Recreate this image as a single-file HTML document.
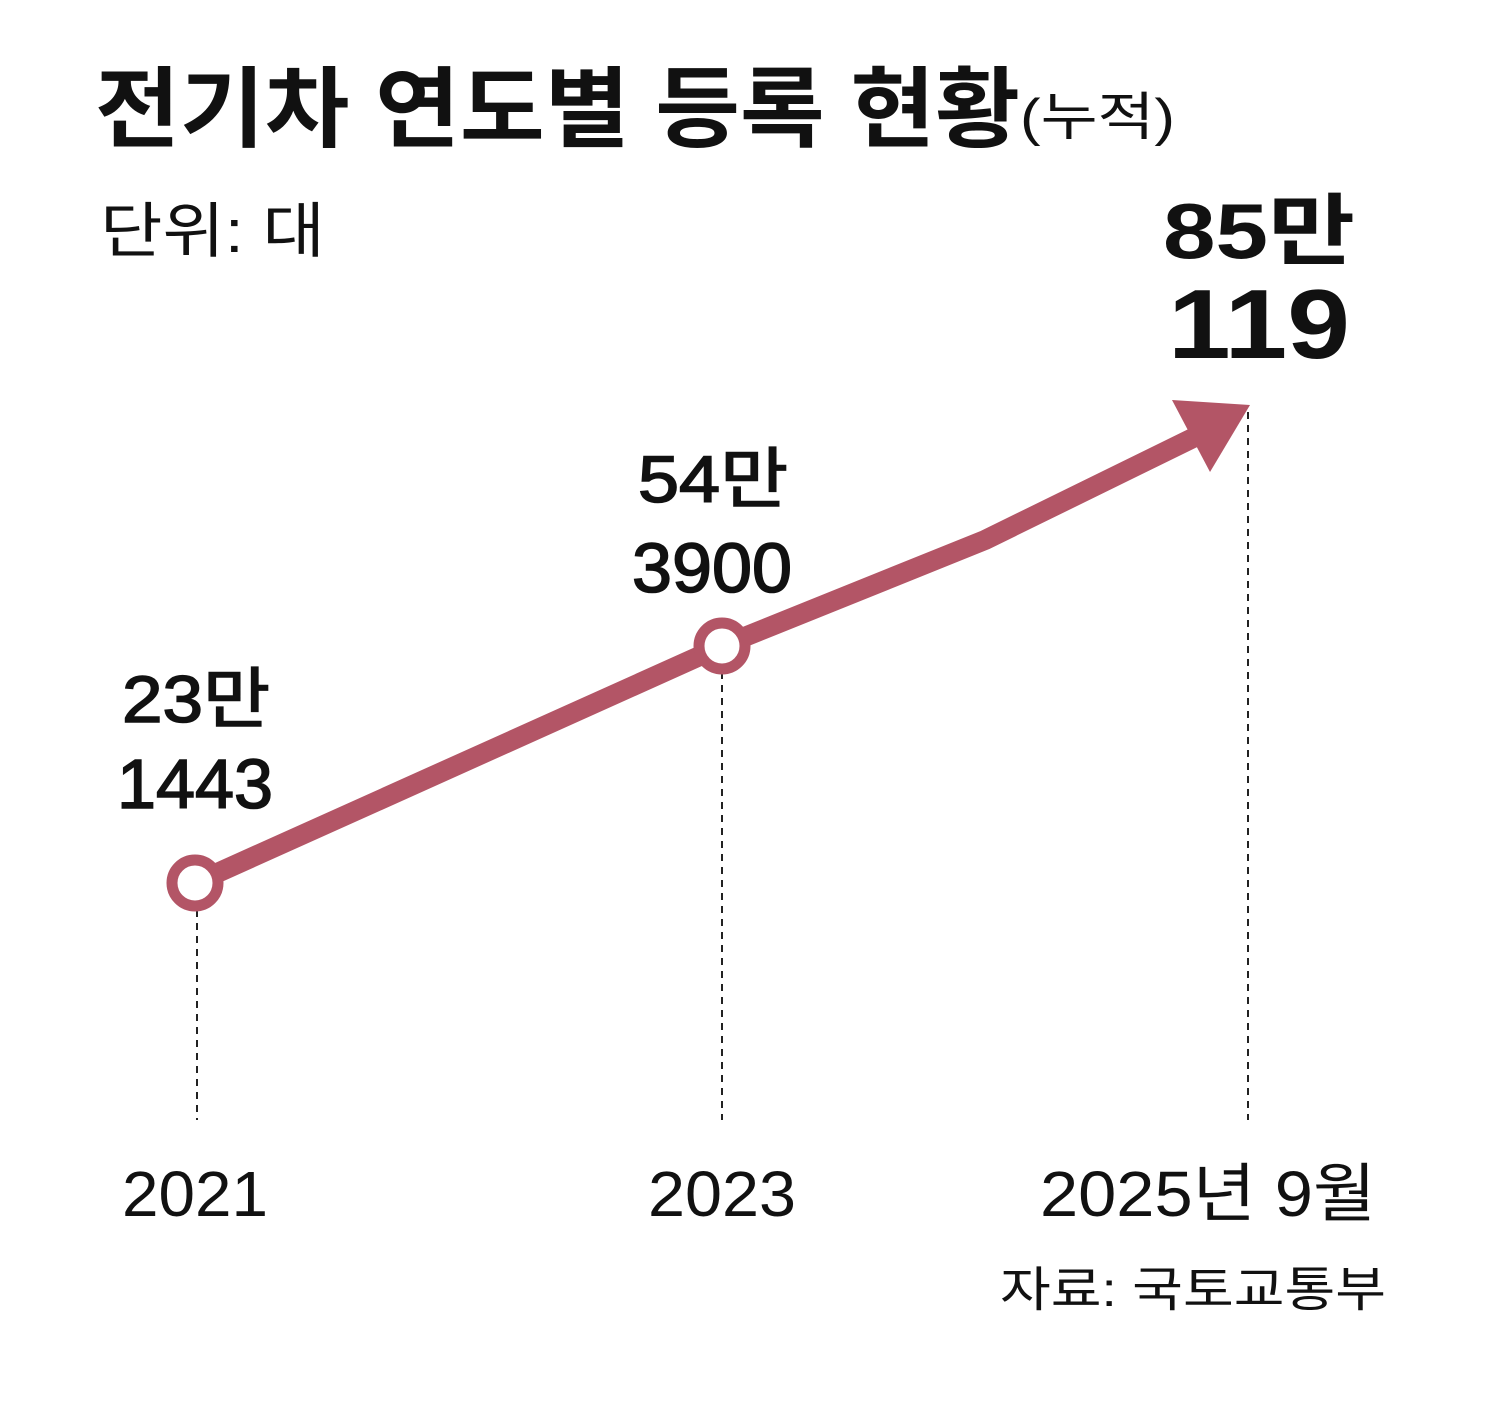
<!DOCTYPE html>
<html><head><meta charset="utf-8"><style>
html,body{margin:0;padding:0;background:#fff;}
svg{display:block;}
text{font-family:"Liberation Sans","Noto Sans CJK KR",sans-serif;fill:#111;}
.m{stroke:#111;stroke-width:1.6px;}
</style></head><body>
<svg width="1500" height="1409" viewBox="0 0 1500 1409" xmlns="http://www.w3.org/2000/svg">
<text x="95" y="140" font-size="88" font-weight="bold" textLength="925" lengthAdjust="spacingAndGlyphs">전기차 연도별 등록 현황</text>
<text x="1020" y="135" font-size="52" textLength="155" lengthAdjust="spacingAndGlyphs">(누적)</text>
<text x="100" y="252" font-size="60" fill="#222" textLength="225" lengthAdjust="spacingAndGlyphs">단위: 대</text>
<text x="1163" y="258" font-size="78" font-weight="bold" textLength="192" lengthAdjust="spacingAndGlyphs">85만</text>
<text x="1168" y="358" font-size="98" font-weight="bold" textLength="182" lengthAdjust="spacingAndGlyphs">119</text>
<text class="m" x="638" y="502" font-size="66" textLength="150" lengthAdjust="spacingAndGlyphs">54만</text>
<text class="m" x="632" y="592" font-size="70" textLength="160" lengthAdjust="spacingAndGlyphs">3900</text>
<text class="m" x="122" y="722" font-size="66" textLength="148" lengthAdjust="spacingAndGlyphs">23만</text>
<text class="m" x="117" y="808" font-size="70" textLength="156" lengthAdjust="spacingAndGlyphs">1443</text>
<g stroke="#222" stroke-width="2" stroke-dasharray="7,6">
<line x1="197" y1="910" x2="197" y2="1120"/>
<line x1="722" y1="672" x2="722" y2="1120"/>
<line x1="1248" y1="412" x2="1248" y2="1120"/>
</g>
<polyline points="195,883 722,646 985,540 1195,437" fill="none" stroke="#b35566" stroke-width="20" stroke-linejoin="round"/>
<polygon points="1250,405 1172,400 1210,472" fill="#b35566"/>
<circle cx="195" cy="883" r="23" fill="#fff" stroke="#b35566" stroke-width="11"/>
<circle cx="722" cy="646" r="23" fill="#fff" stroke="#b35566" stroke-width="11"/>
<text x="122" y="1216" font-size="64" textLength="146" lengthAdjust="spacingAndGlyphs">2021</text>
<text x="648" y="1216" font-size="64" textLength="148" lengthAdjust="spacingAndGlyphs">2023</text>
<text x="1040" y="1216" font-size="64" textLength="336" lengthAdjust="spacingAndGlyphs">2025년 9월</text>
<text x="1000" y="1306" font-size="48" fill="#444" textLength="386" lengthAdjust="spacingAndGlyphs">자료: 국토교통부</text>
</svg>
</body></html>
